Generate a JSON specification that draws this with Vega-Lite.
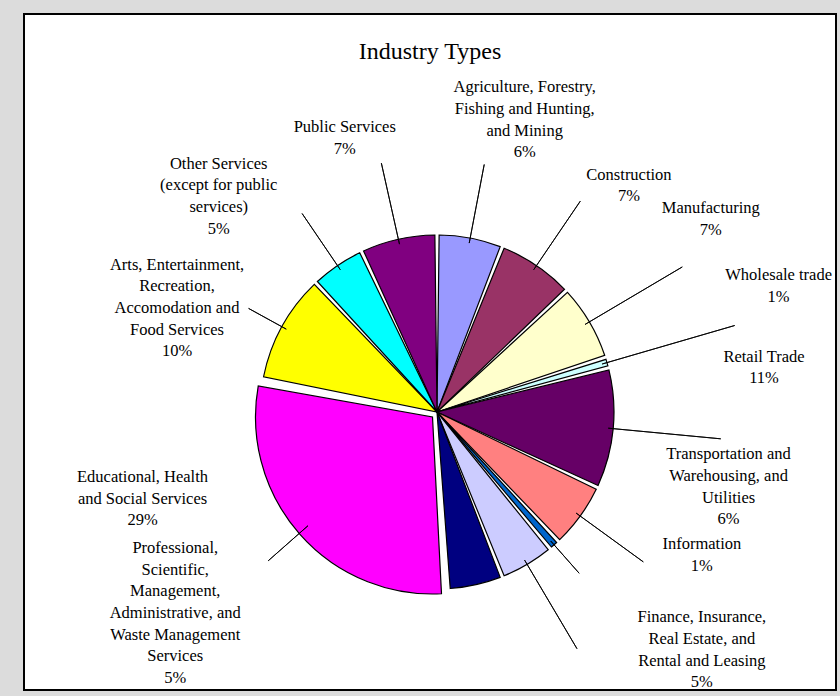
{
  "$schema": "https://vega.github.io/schema/vega-lite/v6.json",
  "width": 812,
  "height": 676,
  "autosize": {"type": "none"},
  "padding": {"left": 24, "top": 14, "right": 4, "bottom": 6},
  "background": "#dcdcdc",
  "view": {"fill": "white", "stroke": "black", "strokeWidth": 2},
  "config": {
    "style": {"view": {"fill": "white", "stroke": "black", "strokeWidth": 2}},
    "text": {"font": "Liberation Serif", "fontSize": 16.5, "lineHeight": 21.6, "lineBreak": "\n", "align": "center", "baseline": "middle", "color": "black"}
  },
  "title": {"text": "Industry Types", "font": "Liberation Serif", "fontSize": 24, "fontWeight": "normal", "color": "black", "anchor": "middle", "offset": -54},
  "data": {
    "values": [
      {"idx": 1, "name": "Agriculture", "pct": 6, "label": "Agriculture, Forestry,\nFishing and Hunting,\nand Mining\n6%"},
      {"idx": 2, "name": "Construction", "pct": 7, "label": "Construction\n7%"},
      {"idx": 3, "name": "Manufacturing", "pct": 7, "label": "Manufacturing\n7%"},
      {"idx": 4, "name": "Wholesale trade", "pct": 1, "label": "Wholesale trade\n1%"},
      {"idx": 5, "name": "Retail Trade", "pct": 11, "label": "Retail Trade\n11%"},
      {"idx": 6, "name": "Transportation", "pct": 6, "label": "Transportation and\nWarehousing, and\nUtilities\n6%"},
      {"idx": 7, "name": "Information", "pct": 1, "label": "Information\n1%"},
      {"idx": 8, "name": "Finance", "pct": 5, "label": "Finance, Insurance,\nReal Estate, and\nRental and Leasing\n5%"},
      {"idx": 9, "name": "Professional", "pct": 5, "label": "Professional,\nScientific,\nManagement,\nAdministrative, and\nWaste Management\nServices\n5%"},
      {"idx": 10, "name": "Educational", "pct": 29, "label": "Educational, Health\nand Social Services\n29%"},
      {"idx": 11, "name": "Arts", "pct": 10, "label": "Arts, Entertainment,\nRecreation,\nAccomodation and\nFood Services\n10%"},
      {"idx": 12, "name": "Other Services", "pct": 5, "label": "Other Services\n(except for public\nservices)\n5%"},
      {"idx": 13, "name": "Public Services", "pct": 7, "label": "Public Services\n7%"}
    ]
  },
  "encoding": {
    "theta": {"field": "pct", "type": "quantitative", "stack": true},
    "order": {"field": "idx", "type": "quantitative"}
  },
  "layer": [
    {
      "mark": {"type": "arc", "outerRadius": 177, "padAngle": 0.024, "stroke": "black", "strokeWidth": 1.2, "xOffset": 7, "yOffset": 60},
      "encoding": {
        "color": {"field": "name", "type": "nominal", "legend": null,
          "scale": {"domain": ["Agriculture", "Construction", "Manufacturing", "Wholesale trade", "Retail Trade", "Transportation", "Information", "Finance", "Professional", "Educational", "Arts", "Other Services", "Public Services"],
                    "range": ["#9999FF", "#993366", "#FFFFCC", "#CCFFFF", "#660066", "#FF8080", "#0066CC", "#CCCCFF", "#000080", "#FF00FF", "#FFFF00", "#00FFFF", "#800080"]}},
        "opacity": {"condition": {"test": "datum.idx == 10", "value": 0}, "value": 1}
      }
    },
    {
      "mark": {"type": "arc", "outerRadius": 177, "padAngle": 0.024, "stroke": "black", "strokeWidth": 1.2, "xOffset": 2.5, "yOffset": 65},
      "encoding": {
        "color": {"field": "name", "type": "nominal", "legend": null},
        "opacity": {"condition": {"test": "datum.idx == 10", "value": 1}, "value": 0}
      }
    },
    {
      "transform": [{"stack": "pct", "groupby": [], "sort": [{"field": "idx", "order": "ascending"}], "as": ["s0", "s1"]}],
      "mark": {"type": "arc", "filled": false, "stroke": "black", "strokeWidth": 0.9, "padAngle": 3, "xOffset": 7, "yOffset": 60},
      "encoding": {
        "theta": {"field": "s0", "type": "quantitative", "stack": null},
        "theta2": {"field": "s1"},
        "radius": {"field": "idx", "type": "quantitative", "scale": {"type": "linear", "zero": false, "nice": false, "domain": [1, 2, 3, 4, 5, 6, 7, 8, 9, 10, 11, 12, 13], "range": [252, 255, 285, 310, 285, 255, 215, 275, 172, 225, 215, 240, 255]}},
        "radius2": {"value": 172}
      }
    },
    {"mark": {"type": "text", "radius": 305, "thetaOffset": 0.103, "dy": -32.4, "xOffset": 7, "yOffset": 60},
     "encoding": {"text": {"field": "label"}, "opacity": {"condition": {"test": "datum.idx == 1", "value": 1}, "value": 0}}},
    {"mark": {"type": "text", "radius": 297, "thetaOffset": 0.106, "dy": -10.8, "xOffset": 7, "yOffset": 60},
     "encoding": {"text": {"field": "label"}, "opacity": {"condition": {"test": "datum.idx == 2", "value": 1}, "value": 0}}},
    {"mark": {"type": "text", "radius": 335, "thetaOffset": -0.08, "dy": -10.8, "xOffset": 7, "yOffset": 60},
     "encoding": {"text": {"field": "label"}, "opacity": {"condition": {"test": "datum.idx == 3", "value": 1}, "value": 0}}},
    {"mark": {"type": "text", "radius": 364, "thetaOffset": -0.07, "dy": -10.8, "xOffset": 7, "yOffset": 60},
     "encoding": {"text": {"field": "label"}, "opacity": {"condition": {"test": "datum.idx == 4", "value": 1}, "value": 0}}},
    {"mark": {"type": "text", "radius": 330, "thetaOffset": -0.23, "dy": -10.8, "xOffset": 7, "yOffset": 60},
     "encoding": {"text": {"field": "label"}, "opacity": {"condition": {"test": "datum.idx == 5", "value": 1}, "value": 0}}},
    {"mark": {"type": "text", "radius": 301, "thetaOffset": -0.377, "dy": -32.4, "xOffset": 7, "yOffset": 60},
     "encoding": {"text": {"field": "label"}, "opacity": {"condition": {"test": "datum.idx == 6", "value": 1}, "value": 0}}},
    {"mark": {"type": "text", "radius": 301, "thetaOffset": -0.353, "dy": -10.8, "xOffset": 7, "yOffset": 60},
     "encoding": {"text": {"field": "label"}, "opacity": {"condition": {"test": "datum.idx == 7", "value": 1}, "value": 0}}},
    {"mark": {"type": "text", "radius": 356, "thetaOffset": -0.305, "dy": -32.4, "xOffset": 7, "yOffset": 60},
     "encoding": {"text": {"field": "label"}, "opacity": {"condition": {"test": "datum.idx == 8", "value": 1}, "value": 0}}},
    {"mark": {"type": "text", "radius": 330, "thetaOffset": 1.136, "dy": -64.8, "xOffset": 7, "yOffset": 60},
     "encoding": {"text": {"field": "label"}, "opacity": {"condition": {"test": "datum.idx == 9", "value": 1}, "value": 0}}},
    {"mark": {"type": "text", "radius": 307, "thetaOffset": 0.436, "dy": -21.6, "xOffset": 7, "yOffset": 60},
     "encoding": {"text": {"field": "label"}, "opacity": {"condition": {"test": "datum.idx == 10", "value": 1}, "value": 0}}},
    {"mark": {"type": "text", "radius": 280, "thetaOffset": -0.122, "dy": -43.2, "xOffset": 7, "yOffset": 60},
     "encoding": {"text": {"field": "label"}, "opacity": {"condition": {"test": "datum.idx == 11", "value": 1}, "value": 0}}},
    {"mark": {"type": "text", "radius": 307, "thetaOffset": -0.194, "dy": -32.4, "xOffset": 7, "yOffset": 60},
     "encoding": {"text": {"field": "label"}, "opacity": {"condition": {"test": "datum.idx == 12", "value": 1}, "value": 0}}},
    {"mark": {"type": "text", "radius": 289, "thetaOffset": -0.105, "dy": -10.8, "xOffset": 7, "yOffset": 60},
     "encoding": {"text": {"field": "label"}, "opacity": {"condition": {"test": "datum.idx == 13", "value": 1}, "value": 0}}}
  ],
  "resolve": {"scale": {"radius": "independent"}}
}
